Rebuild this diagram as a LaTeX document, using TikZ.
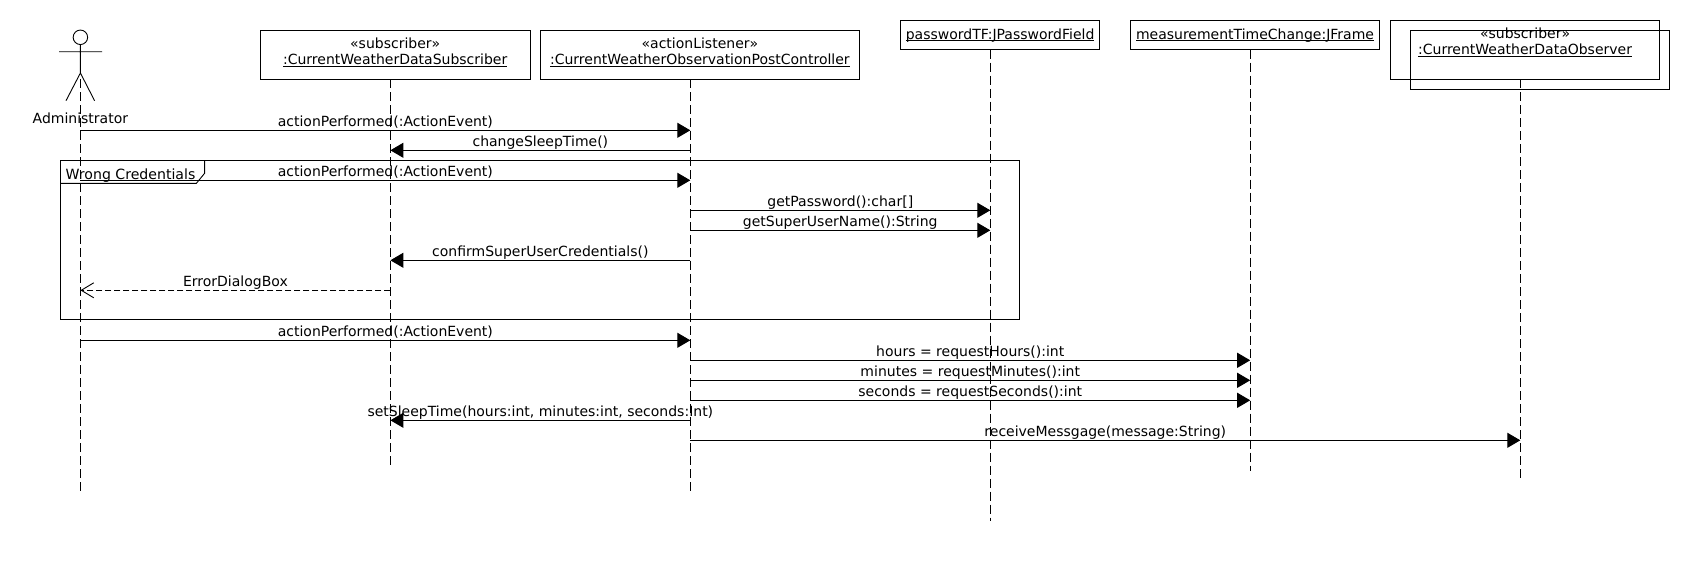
\documentclass[tikz,border=0pt]{standalone}
\usepackage{fontspec}
\setmainfont{DejaVu Sans}
\usetikzlibrary{arrows.meta}
\newcommand{\objname}[1]{\underline{\smash{#1}}}

\begin{document}
\begin{tikzpicture}[x=1pt,y=-1pt,line width=0.9pt,font=\fontsize{14}{16}\selectfont,
    objbox/.style={draw,inner sep=0pt,align=center,text depth=7pt},
    life/.style={dash pattern=on 9pt off 4pt},
    msg/.style={-{Triangle[length=13pt,width=15pt]}},
    reply/.style={dash pattern=on 6pt off 3pt,-{Straight Barb[length=12.5pt,width=15pt]}},
    lbl/.style={inner sep=0pt,text height=11pt,text depth=3pt}]
      \useasboundingbox (0,0) rectangle (1690,560);
      % boxes along the top
      \draw
        (395.2,54.8) node[objbox,minimum width=269.6pt,minimum height=49pt] (sub){«subscriber»\\\objname{:CurrentWeatherDataSubscriber}}
        (699.9,54.8) node[objbox,minimum width=319.9pt,minimum height=49pt] (ctrl){«actionListener»\\\objname{:CurrentWeatherObservationPostController}}
        (1000.1,35) node[objbox,text height=11pt,text depth=3pt,minimum width=199.4pt,minimum height=29.4pt] (pass){\objname{passwordTF:JPasswordField}}
        (1255,35) node[objbox,text height=11pt,text depth=3pt,minimum width=249.4pt,minimum height=29.4pt] (frame){\objname{measurementTimeChange:JFrame}}
        (1525.1,49.8) node[objbox,text depth=17.6pt,minimum width=269.4pt,minimum height=59pt] (obsback){«subscriber»\\\objname{:CurrentWeatherDataObserver}}
        (1540,59.8) node[draw,minimum width=259.3pt,minimum height=59pt] (obsfront){};
      % actor
      \draw (80.4,37.3) node[draw,circle,inner sep=0pt,minimum size=14.5pt] (head){}
        (80.4,118.3) node[inner sep=0pt] (admin){Administrator};
      \coordinate (hip) at (80.4,73);
      \coordinate (armL) at (59,51.7);
      \coordinate (armR) at (102,51.7);
      \coordinate (footL) at (66,100.7);
      \coordinate (footR) at (94.6,100.7);
      \draw (head) -- (hip) (armL) -- (armR) (footL) -- (hip) -- (footR);
      % lifelines
      \foreach \n/\x/\t/\b in {lAdmin/80.4/79.3/490.7,lSub/390.4/79.3/467,lCtrl/690.3/79.3/490.7,
          lPass/990.3/49.7/521,lFrame/1250.2/49.7/470.7,lObs/1520.3/79.3/478.3}{
        \coordinate (\n) at (\x,\t);
        \coordinate (\n end) at (\x,\b);
        \draw[life] (\n) -- (\n end);
      }
      % fragment
      \coordinate (tabA) at (60.7,183.3);
      \coordinate (tabB) at (196.4,183.3);
      \coordinate (tabC) at (204.6,173.3);
      \coordinate (tabD) at (204.6,160.3);
      \draw (540.25,239.8) node[draw,minimum width=959.1pt,minimum height=159pt] (alt){};
      \draw (tabA) -- (tabB) -- (tabC) -- (tabD);
      \draw (130.5,175.5) node[inner sep=0pt,font=\fontsize{14.1}{16}\selectfont] (altname){Wrong Credentials};
      % rows of the messages
      \foreach \n/\y in {1/130.3,2/150.3,3/180.3,4/210.3,5/230.3,6/260.3,7/290.3,8/340.3,
          9/360.3,10/380.3,11/400.3,12/420.3,13/440.3}{
        \coordinate (r\n) at (0,\y);
      }
      \begin{scope}[msg,above]
        \draw (lAdmin |- r1) to node[lbl] {actionPerformed(:ActionEvent)} (lCtrl |- r1);
        \draw (lCtrl |- r2) to node[lbl] {changeSleepTime()} (lSub |- r2);
        \draw (lAdmin |- r3) to node[lbl] {actionPerformed(:ActionEvent)} (lCtrl |- r3);
        \draw (lCtrl |- r4) to node[lbl] {getPassword():char[]} (lPass |- r4);
        \draw (lCtrl |- r5) to node[lbl] {getSuperUserName():String} (lPass |- r5);
        \draw (lCtrl |- r6) to node[lbl] {confirmSuperUserCredentials()} (lSub |- r6);
        \draw[reply] (lSub |- r7) to node[lbl] {ErrorDialogBox} (lAdmin |- r7);
        \draw (lAdmin |- r8) to node[lbl] {actionPerformed(:ActionEvent)} (lCtrl |- r8);
        \draw (lCtrl |- r9) to node[lbl] {hours = requestHours():int} (lFrame |- r9);
        \draw (lCtrl |- r10) to node[lbl] {minutes = requestMinutes():int} (lFrame |- r10);
        \draw (lCtrl |- r11) to node[lbl] {seconds = requestSeconds():int} (lFrame |- r11);
        \draw (lCtrl |- r12) to node[lbl] {setSleepTime(hours:int, minutes:int, seconds:Int)} (lSub |- r12);
        \draw (lCtrl |- r13) to node[lbl] {receiveMessgage(message:String)} (lObs |- r13);
      \end{scope}
    \end{tikzpicture}
\end{document}
